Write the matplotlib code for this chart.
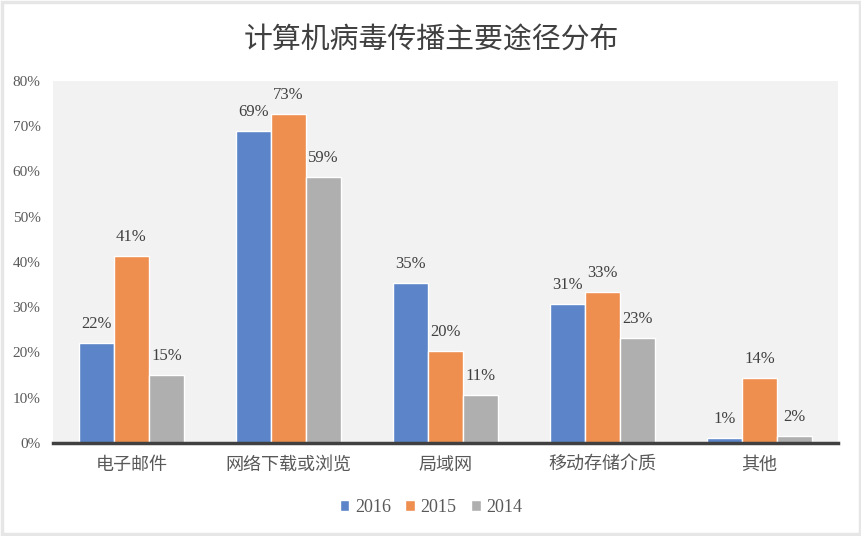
import matplotlib
matplotlib.use("Agg")
import matplotlib.pyplot as plt
import numpy as np
from matplotlib.patches import Rectangle

categories = ["电子邮件", "网络下载或浏览", "局域网", "移动存储介质", "其他"]
series_names = ["2016", "2015", "2014"]
v2016 = [22.2, 68.9, 35.4, 30.8, 1.1]
v2015 = [41.4, 72.8, 20.4, 33.4, 14.3]
v2014 = [15.0, 58.8, 10.6, 23.3, 1.6]
colors = ["#5B84C9", "#EE8F4F", "#AFAFAF"]
yticks = [0, 10, 20, 30, 40, 50, 60, 70, 80]
title = "计算机病毒传播主要途径分布"

CJK = ["Noto Sans CJK SC", "DejaVu Sans"]
SERIF = ["Liberation Serif", "DejaVu Serif"]

fig = plt.figure(figsize=(8.62, 5.36), dpi=100)
fig.patch.set_facecolor("white")
# outer light border
fig.add_artist(Rectangle((0.002, 0.004), 0.996, 0.992, transform=fig.transFigure,
                         fill=False, edgecolor="#E6E6E6", linewidth=2.5))

ax = fig.add_axes([0.0615, 0.1735, 0.9105, 0.6755])
ax.set_facecolor("#F2F2F2")

x = np.arange(len(categories))
w = 0.223
data = [v2016, v2015, v2014]
for i, (vals, c, name) in enumerate(zip(data, colors, series_names)):
    pos = x + (i - 1) * w
    ax.bar(pos, vals, width=w, color=c, edgecolor="white", linewidth=1.0,
           label=name, zorder=2)
    for xp, v in zip(pos, vals):
        ax.text(xp, v + 2.4, f"{v:.0f}%", ha="center", va="bottom",
                fontsize=12, family=SERIF, color="#404040")

ax.set_xlim(-0.5, len(categories) - 0.5)
ax.set_ylim(0, 80)
ax.set_yticks(yticks)
ax.set_yticklabels([f"{t}%" for t in yticks], family=SERIF, fontsize=11, color="#595959")
ax.set_xticks(x)
ax.set_xticklabels(categories, family=CJK, fontsize=13, color="#595959")
for lbl in ax.get_xticklabels():
    lbl.set_fontweight("light")
ax.tick_params(axis="both", length=0)
ax.tick_params(axis="x", pad=9)
ax.tick_params(axis="y", pad=9)
for s in ["top", "right", "left"]:
    ax.spines[s].set_visible(False)
ax.spines["bottom"].set_color("#404040")
ax.spines["bottom"].set_linewidth(2.5)
ax.spines["bottom"].set_zorder(3)

fig.text(0.5, 0.925, title, ha="center", va="center", fontsize=20.8,
         family=CJK, color="#404040", fontweight="light")

leg = fig.legend(loc="center", bbox_to_anchor=(0.5, 0.054), ncol=3, frameon=False,
                 prop={"family": SERIF, "size": 13}, handlelength=0.55, handleheight=0.55,
                 handletextpad=0.3, columnspacing=0.8)
for t in leg.get_texts():
    t.set_color("#595959")

fig.savefig("out.png", dpi=100, facecolor="white")
